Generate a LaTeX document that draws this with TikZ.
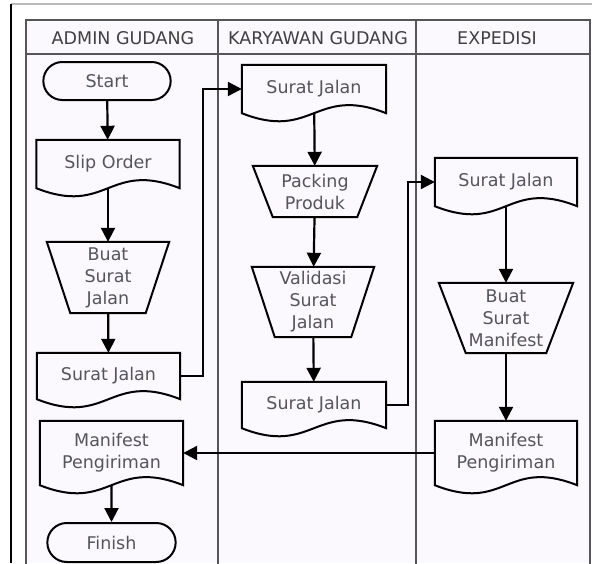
\documentclass[tikz,border=0pt]{standalone}
\usepackage{fontspec}
\setmainfont{DejaVu Sans}
\usepackage{tikz}
\usetikzlibrary{shapes.misc,arrows.meta}

\definecolor{lanebg}{RGB}{251,248,254}
\definecolor{lanegray}{RGB}{85,85,90}
\definecolor{txtgray}{RGB}{85,85,92}

% outline of a document box with wavy bottom
\newcommand{\docline}[1]{\draw[outline] (#1.south west) -- (#1.north west) -- (#1.north east) -- (#1.south east) .. controls +(-71pt,28pt) and +(71pt,-28pt) .. (#1.south west) -- cycle;}
% outline of a manual operation (upside down trapezium)
\newcommand{\manop}[2]{\draw[outline] (#1.north west) -- (#1.north east) -- ([xshift=-#2]#1.south east) -- ([xshift=#2]#1.south west) -- cycle;}

\begin{document}
\begin{tikzpicture}[x=1pt,y=-1pt,
    every node/.style={font=\fontsize{17.5}{22}\selectfont, text=txtgray, align=center},
    outline/.style={draw=black, line width=2pt, line join=miter},
    term/.style={rounded rectangle, draw=black, line width=2pt, minimum height=38pt},
    docbox/.style={minimum width=143pt, inner sep=0pt},
    opbox/.style={inner sep=0pt},
    lane/.style={draw=lanegray, line width=2pt},
    flow/.style={line width=2.2pt, -{Triangle[length=14pt,width=14pt]}}]
  \useasboundingbox (0,0) rectangle (592,563);
  % page edges
  \draw[gray!55, line width=1.5pt] (11,4) -- (592,4);
  \draw[black, line width=1.2pt] (11,4) -- (11,563);
  % swimlanes
  \fill[lanebg] (26,20) rectangle (590,563);
  \draw[lane] (26,565) -- (26,20) -- (590,20) -- (590,565);
  \draw[lane] (26,54) -- (590,54);
  \draw[lane] (218,20) -- (218,565);
  \draw[lane] (416,20) -- (416,565);
  \node[text=black!75] (hadmin) at (123,38) {ADMIN GUDANG};
  \node[text=black!75] (hkary) at (318,38) {KARYAWAN GUDANG};
  \node[text=black!75] (hexp) at (497,38) {EXPEDISI};

  % admin gudang
  \node[term, minimum width=134pt] (start) at (107,81) {Start};
  \node[docbox, minimum height=48pt] (slip) at (108,164) {Slip Order};
  \node[opbox, minimum width=122pt, minimum height=71pt] (buatsj) at (108,277.5) {Buat\\Surat\\Jalan};
  \node[docbox, minimum height=46pt] (sjadmin) at (108.5,376) {Surat Jalan};
  \node[docbox, minimum height=64pt] (mfadmin) at (111.5,453) {Manifest\\Pengiriman};
  \node[term, minimum width=135pt, minimum height=39pt] (finish) at (111.5,542.5) {Finish};

  % karyawan gudang
  \node[docbox, minimum width=144pt, minimum height=48pt] (sjkary) at (314,89) {Surat Jalan};
  \node[opbox, minimum width=124pt, minimum height=51pt] (packing) at (315,191.5) {Packing\\Produk};
  \node[opbox, minimum width=122pt, minimum height=70pt] (validasi) at (313,302) {Validasi\\Surat\\Jalan};
  \node[docbox, minimum width=144pt, minimum height=46pt] (sjkary2) at (314,405) {Surat Jalan};

  % expedisi
  \node[docbox, minimum width=142pt, minimum height=48pt] (sjexp) at (506,182) {Surat Jalan};
  \node[opbox, minimum width=134pt, minimum height=70pt] (buatmf) at (506,318) {Buat\\Surat\\Manifest};
  \node[docbox, minimum width=142pt, minimum height=64pt] (mfexp) at (506,453) {Manifest\\Pengiriman};

  \docline{slip}
  \docline{sjadmin}
  \docline{mfadmin}
  \docline{sjkary}
  \docline{sjkary2}
  \docline{sjexp}
  \docline{mfexp}
  \manop{buatsj}{23.5pt}
  \manop{packing}{20pt}
  \manop{validasi}{23pt}
  \manop{buatmf}{27pt}

  \coordinate (kinka) at (203,0);
  \coordinate (kinkb) at (408,0);

  \draw[flow] (start) -- (slip);
  \draw[flow] (slip) -- (buatsj);
  \draw[flow] (buatsj) -- (sjadmin);
  \draw[flow] (sjadmin.east) -| (kinka |- sjkary.west) -- (sjkary.west);
  \draw[flow] (sjkary) -- (packing);
  \draw[flow] (packing) -- (validasi);
  \draw[flow] (validasi) -- (sjkary2);
  \draw[flow] (sjkary2.east) -| (kinkb |- sjexp.west) -- (sjexp.west);
  \draw[flow] (sjexp) -- (buatmf);
  \draw[flow] (buatmf) -- (mfexp);
  \draw[flow] (mfexp.west) -- (mfadmin.east);
  \draw[flow] (mfadmin) -- (finish);
\end{tikzpicture}
\end{document}
